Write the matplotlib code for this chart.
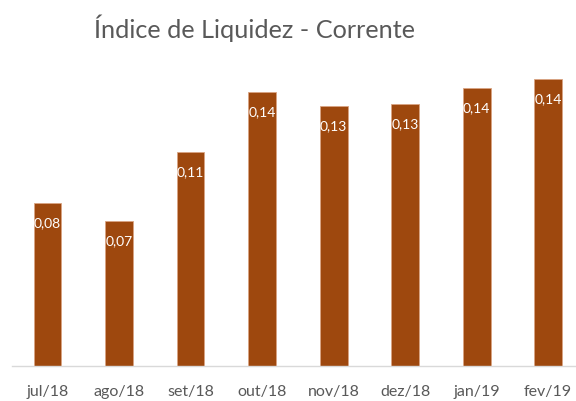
import matplotlib.pyplot as plt

meses = ["jul/18", "ago/18", "set/18", "out/18", "nov/18", "dez/18", "jan/19", "fev/19"]
indice = [0.0815, 0.0725, 0.107, 0.137, 0.130, 0.131, 0.139, 0.1435]

plt.rcParams['font.family'] = ['Lato', 'DejaVu Sans']

fig = plt.figure(figsize=(5.76, 4.02), dpi=100)
# axes in pixel coords: left 11.75, right 576, baseline y=367, top y=57
ax = fig.add_axes([11.75 / 576, (402 - 367) / 402, (576 - 11.75) / 576, (367 - 57) / 402])

x = range(len(meses))
bars = ax.bar(x, indice, width=0.39, color="#9E480E", edgecolor="#D9A483", linewidth=0.6, zorder=2)

for i, v in enumerate(indice):
    ax.text(i, v - 0.0095, f"{v:.2f}".replace(".", ","), ha="center", va="center",
            color="white", fontsize=10)

ax.set_xlim(-0.5, 7.39)
ax.set_ylim(0, 0.155)
ax.set_yticks([])
ax.set_xticks(list(x))
ax.set_xticklabels(meses, fontsize=11.5, color="#595959")
ax.tick_params(axis="x", length=0, pad=13)
for s in ["top", "right", "left"]:
    ax.spines[s].set_visible(False)
ax.spines["bottom"].set_color("#D9D9D9")
ax.spines["bottom"].set_linewidth(1)

fig.text(254 / 576, 1 - 28 / 402, "Índice de Liquidez - Corrente", ha="center", va="center",
         fontsize=18.2, color="#595959")

fig.savefig("out.png", dpi=100)
